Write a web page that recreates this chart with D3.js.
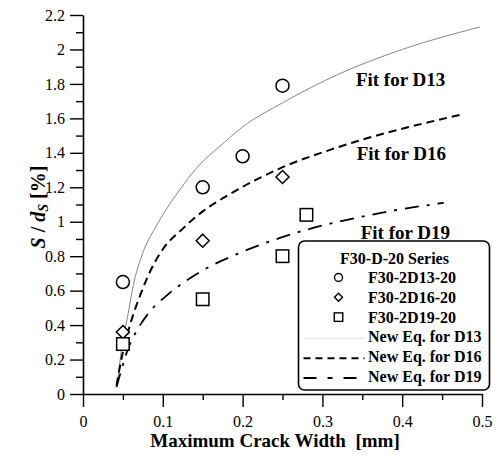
<!DOCTYPE html>
<html lang="en">
<head>
    <meta charset="UTF-8">
    <title>S/ds vs maximum crack width</title>
    <script src="https://d3js.org/d3.v7.min.js"></script>
    <style>
        body { margin: 0; background: #fff; }
        svg text { font-family: "Liberation Serif", "Times New Roman", serif; }
    </style>
</head>
<body>
    <div id="chart"></div>

    <script>

        // Measured points [crack width mm, S/ds %]
        var d13_points = [[0.05, 0.65], [0.15, 1.20], [0.20, 1.38], [0.25, 1.79]];
        var d16_points = [[0.05, 0.36], [0.15, 0.89], [0.25, 1.26]];
        var d19_points = [[0.05, 0.29], [0.15, 0.55], [0.25, 0.80], [0.28, 1.04]];

        // Fit curves
        var d13_fit = [[0.043, 0.05], [0.048, 0.25], [0.0567, 0.47], [0.063, 0.63], [0.075, 0.82],
                       [0.09, 0.96], [0.10, 1.04], [0.122, 1.19], [0.142, 1.31], [0.172, 1.44],
                       [0.20, 1.55], [0.25, 1.69], [0.322, 1.86], [0.40, 2.00], [0.497, 2.13]];
        var d16_fit = [[0.042, 0.05], [0.048, 0.20], [0.057, 0.37], [0.0714, 0.57], [0.085, 0.72],
                       [0.10, 0.84], [0.125, 0.96], [0.15, 1.06], [0.184, 1.16], [0.247, 1.31],
                       [0.318, 1.43], [0.472, 1.62]];
        var d19_fit = [[0.042, 0.04], [0.05, 0.17], [0.057, 0.27], [0.063, 0.33], [0.073, 0.41],
                       [0.084, 0.48], [0.107, 0.58], [0.151, 0.72], [0.197, 0.82], [0.263, 0.93],
                       [0.372, 1.05], [0.452, 1.11]];

        var x_ticks = [0, 0.1, 0.2, 0.3, 0.4, 0.5];
        var y_ticks = [0, 0.2, 0.4, 0.6, 0.8, 1, 1.2, 1.4, 1.6, 1.8, 2, 2.2];
        var x_minor = [0.05, 0.15, 0.25, 0.35, 0.45];
        var y_minor = [0.1, 0.3, 0.5, 0.7, 0.9, 1.1, 1.3, 1.5, 1.7, 1.9, 2.1];

        var fit_labels = [
            {text: "Fit for D13", x: 0.342, y: 1.79},
            {text: "Fit for D16", x: 0.343, y: 1.36},
            {text: "Fit for D19", x: 0.348, y: 0.90}
        ];

        var legend_rows = [
            {label: "F30-2D13-20", type: "circle"},
            {label: "F30-2D16-20", type: "diamond"},
            {label: "F30-2D19-20", type: "square"},
            {label: "New Eq. for D13", type: "fit13"},
            {label: "New Eq. for D16", type: "fit16"},
            {label: "New Eq. for D19", type: "fit19"}
        ];

        var width = 500, height = 457;
        var margin = {left: 83, right: 18, top: 15, bottom: 63};

        var svg = d3.select("#chart").append("svg")
            .attr("width", width)
            .attr("height", height);

        svg.append("rect").attr("width", width).attr("height", height).attr("fill", "#fff");

        var x = d3.scaleLinear().domain([0, 0.5]).range([margin.left, width - margin.right]);
        var y = d3.scaleLinear().domain([0, 2.2]).range([height - margin.bottom, margin.top]);

        var serif = "'Liberation Serif', 'Times New Roman', serif";

        // minor ticks in their own groups, so the major axis call does not remove them
        svg.append("g").attr("transform", "translate(0," + y(0) + ")")
            .call(d3.axisBottom(x).tickValues(x_minor).tickSize(6).tickFormat("").tickSizeOuter(0))
            .select(".domain").remove();
        svg.append("g").attr("transform", "translate(" + x(0) + ",0)")
            .call(d3.axisLeft(y).tickValues(y_minor).tickSize(7).tickFormat("").tickSizeOuter(0))
            .select(".domain").remove();

        var gx = svg.append("g").attr("transform", "translate(0," + y(0) + ")")
            .call(d3.axisBottom(x).tickValues(x_ticks).tickSize(13).tickSizeOuter(0)
                .tickFormat(function(d) { return d === 0 ? "0" : d3.format(".1f")(d); }));
        gx.selectAll("text").attr("y", 33).attr("dy", 0).style("font-size", "16px").style("font-family", serif);

        var gy = svg.append("g").attr("transform", "translate(" + x(0) + ",0)")
            .call(d3.axisLeft(y).tickValues(y_ticks).tickSize(13).tickSizeOuter(0)
                .tickFormat(function(d) { return d3.format("~g")(d); }));
        gy.selectAll("text").attr("x", -18).style("font-size", "16px").style("font-family", serif);

        svg.selectAll(".domain").attr("stroke", "#000").attr("stroke-width", 1.6);
        svg.selectAll(".tick line").attr("stroke", "#000").attr("stroke-width", 1.4);
        svg.selectAll(".tick text").attr("fill", "#000");

        // Axis titles
        svg.append("text")
            .attr("x", 275).attr("y", 447)
            .attr("text-anchor", "middle")
            .style("font-size", "19px").attr("font-weight", "bold")
            .text("Maximum Crack Width\u00a0 [mm]");

        var ylab = svg.append("text")
            .attr("transform", "translate(45,207) rotate(-90)")
            .attr("text-anchor", "middle")
            .style("font-size", "20px").attr("font-weight", "bold");
        ylab.append("tspan").attr("font-style", "italic").text("S");
        ylab.append("tspan").text("\u00a0/\u00a0");
        ylab.append("tspan").attr("font-style", "italic").text("d");
        ylab.append("tspan").attr("font-style", "italic").style("font-size", "14px").attr("dy", 3).text("S");
        ylab.append("tspan").attr("dy", -3).text("\u00a0[%]");

        // Fit curves
        var line = d3.line()
            .x(function(d) { return x(d[0]); })
            .y(function(d) { return y(d[1]); })
            .curve(d3.curveMonotoneX);

        var fit_styles = {
            fit13: {stroke: "#777", width: 0.9, dash: null, legend_dash: null},
            fit16: {stroke: "#000", width: 2, dash: "8,5", legend_dash: "7,5"},
            fit19: {stroke: "#000", width: 1.8, dash: "14,8,3,8", legend_dash: "13,11,5,11"}
        };

        function drawFit(data, style) {
            svg.append("path")
                .datum(data)
                .attr("d", line)
                .attr("fill", "none")
                .attr("stroke", style.stroke)
                .attr("stroke-width", style.width)
                .attr("stroke-dasharray", style.dash);
        }
        drawFit(d13_fit, fit_styles.fit13);
        drawFit(d16_fit, fit_styles.fit16);
        drawFit(d19_fit, fit_styles.fit19);

        // Markers
        function drawMarker(g, type, cx, cy, s) {
            if (type === "circle") {
                g.append("circle").attr("cx", cx).attr("cy", cy).attr("r", s / 2);
            } else if (type === "diamond") {
                var h = s / 2;
                g.append("path").attr("d", "M" + cx + "," + (cy - h) + "L" + (cx + h) + "," + cy +
                    "L" + cx + "," + (cy + h) + "L" + (cx - h) + "," + cy + "Z");
            } else if (type === "square") {
                g.append("rect").attr("x", cx - s / 2).attr("y", cy - s / 2).attr("width", s).attr("height", s);
            }
        }

        var gm = svg.append("g").attr("fill", "#fff").attr("stroke", "#000").attr("stroke-width", 1.5);
        d13_points.forEach(function(d) { drawMarker(gm, "circle", x(d[0]), y(d[1]), 13); });
        d16_points.forEach(function(d) { drawMarker(gm, "diamond", x(d[0]), y(d[1]), 13); });
        d19_points.forEach(function(d) { drawMarker(gm, "square", x(d[0]), y(d[1]), 12.5); });

        // Curve labels
        svg.selectAll(".fit-label")
            .data(fit_labels)
            .enter()
            .append("text")
            .attr("class", "fit-label")
            .attr("x", function(d) { return x(d.x); })
            .attr("y", function(d) { return y(d.y); })
            .style("font-size", "19px").attr("font-weight", "bold")
            .text(function(d) { return d.text; });

        // Legend
        var lg = svg.append("g").attr("transform", "translate(298.5,241)");
        lg.append("rect")
            .attr("width", 191).attr("height", 149)
            .attr("rx", 6).attr("ry", 6)
            .attr("fill", "#fff").attr("stroke", "#000").attr("stroke-width", 1.6);

        lg.append("text")
            .attr("x", 96).attr("y", 23)
            .attr("text-anchor", "middle")
            .style("font-size", "16px").attr("font-weight", "bold")
            .text("F30-D-20 Series");

        legend_rows.forEach(function(row, i) {
            var base = 42 + i * 19.8;
            if (fit_styles[row.type]) {
                var st = fit_styles[row.type];
                lg.append("line")
                    .attr("x1", 5).attr("x2", 66).attr("y1", base - 4).attr("y2", base - 4)
                    .attr("stroke", row.type === "fit13" ? "#e6e6e6" : st.stroke)
                    .attr("stroke-width", st.width)
                    .attr("stroke-dasharray", st.legend_dash);
            } else {
                var g = lg.append("g").attr("fill", "#fff").attr("stroke", "#000").attr("stroke-width", 1.4);
                drawMarker(g, row.type, 40, base - 5.5, row.type === "square" ? 8.5 : 8);
            }
            lg.append("text")
                .attr("x", 69.5).attr("y", base)
                .style("font-size", "16px").attr("font-weight", "bold")
                .text(row.label);
        });

    </script>
</body>
</html>
